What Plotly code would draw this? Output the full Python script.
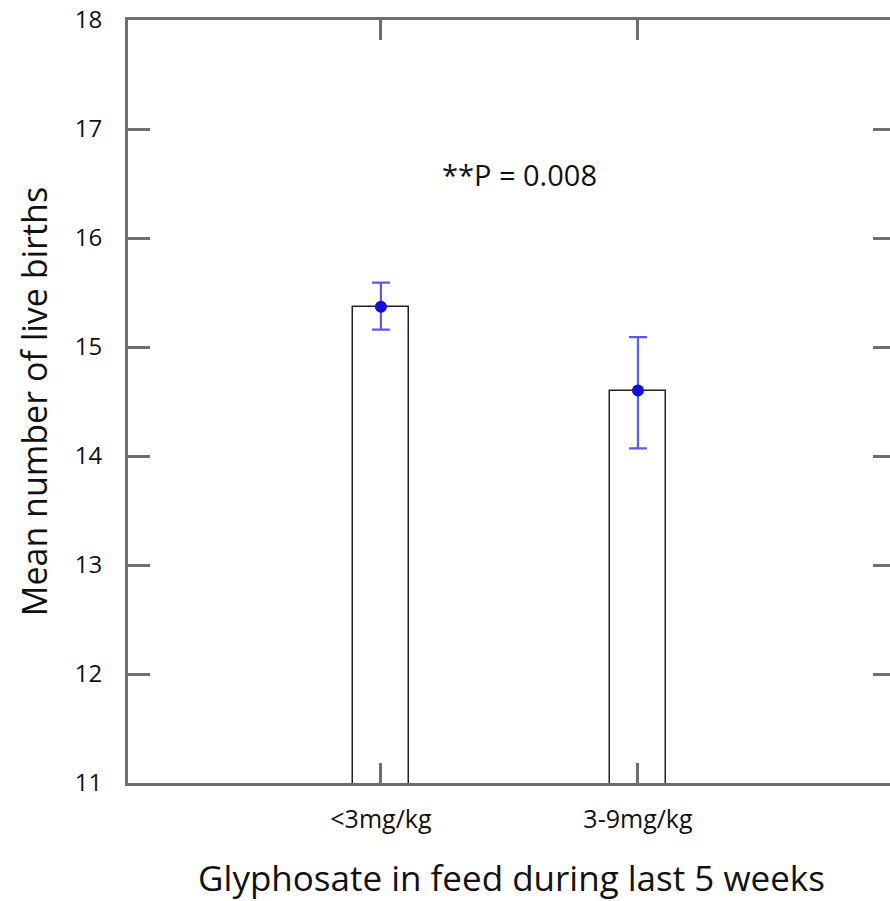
import plotly.graph_objects as go

categories = ["<3mg/kg", "3-9mg/kg"]
cat_pos = [1, 2]
means = [15.37, 14.60]
err_plus = [0.22, 0.49]
err_minus = [0.21, 0.53]
y_ticks = [11, 12, 13, 14, 15, 16, 17, 18]

FONT = "Open Sans"
AXC = "#6e6e6e"

fig = go.Figure()
fig.add_trace(go.Bar(
    x=cat_pos, y=means, width=0.22,
    marker=dict(color="white", line=dict(color="#222222", width=1.5)),
    showlegend=False, hoverinfo="skip",
))
fig.add_trace(go.Scatter(
    x=cat_pos, y=means, mode="markers",
    marker=dict(color="#1010d8", size=12),
    error_y=dict(type="data", symmetric=False, array=err_plus, arrayminus=err_minus,
                 color="#5a5af0", thickness=2.2, width=9),
    showlegend=False,
))
fig.add_annotation(x=1.54, y=16.58, text="**P = 0.008", showarrow=False,
                   font=dict(family=FONT, size=29, color="#111111"))

fig.update_layout(
    width=898, height=901,
    margin=dict(l=128, r=0, t=20, b=118),
    plot_bgcolor="white", paper_bgcolor="white",
    font=dict(family=FONT, color="#111111"),
    bargap=0,
)
fig.update_xaxes(
    range=[0.016, 3.0], tickvals=cat_pos, ticktext=categories,
    showline=True, linecolor=AXC, linewidth=3, mirror="ticks",
    ticks="inside", ticklen=20, tickwidth=2.5, tickcolor=AXC,
    tickfont=dict(size=25), ticklabelstandoff=12,
    showgrid=False, zeroline=False,
    title=dict(text="Glyphosate in feed during last 5 weeks", font=dict(size=35), standoff=36),
)
fig.update_yaxes(
    range=[11, 18], tickvals=y_ticks,
    showline=True, linecolor=AXC, linewidth=3, mirror="ticks",
    ticks="inside", ticklen=22, tickwidth=2.5, tickcolor=AXC,
    tickfont=dict(size=24), ticklabelstandoff=18,
    showgrid=False, zeroline=False,
    title=dict(text="Mean number of live births", font=dict(size=34), standoff=17),
)
fig.write_html("out.html", config={"displayModeBar": False},
               post_script="document.body.style.margin='0';document.body.style.overflow='hidden';")
